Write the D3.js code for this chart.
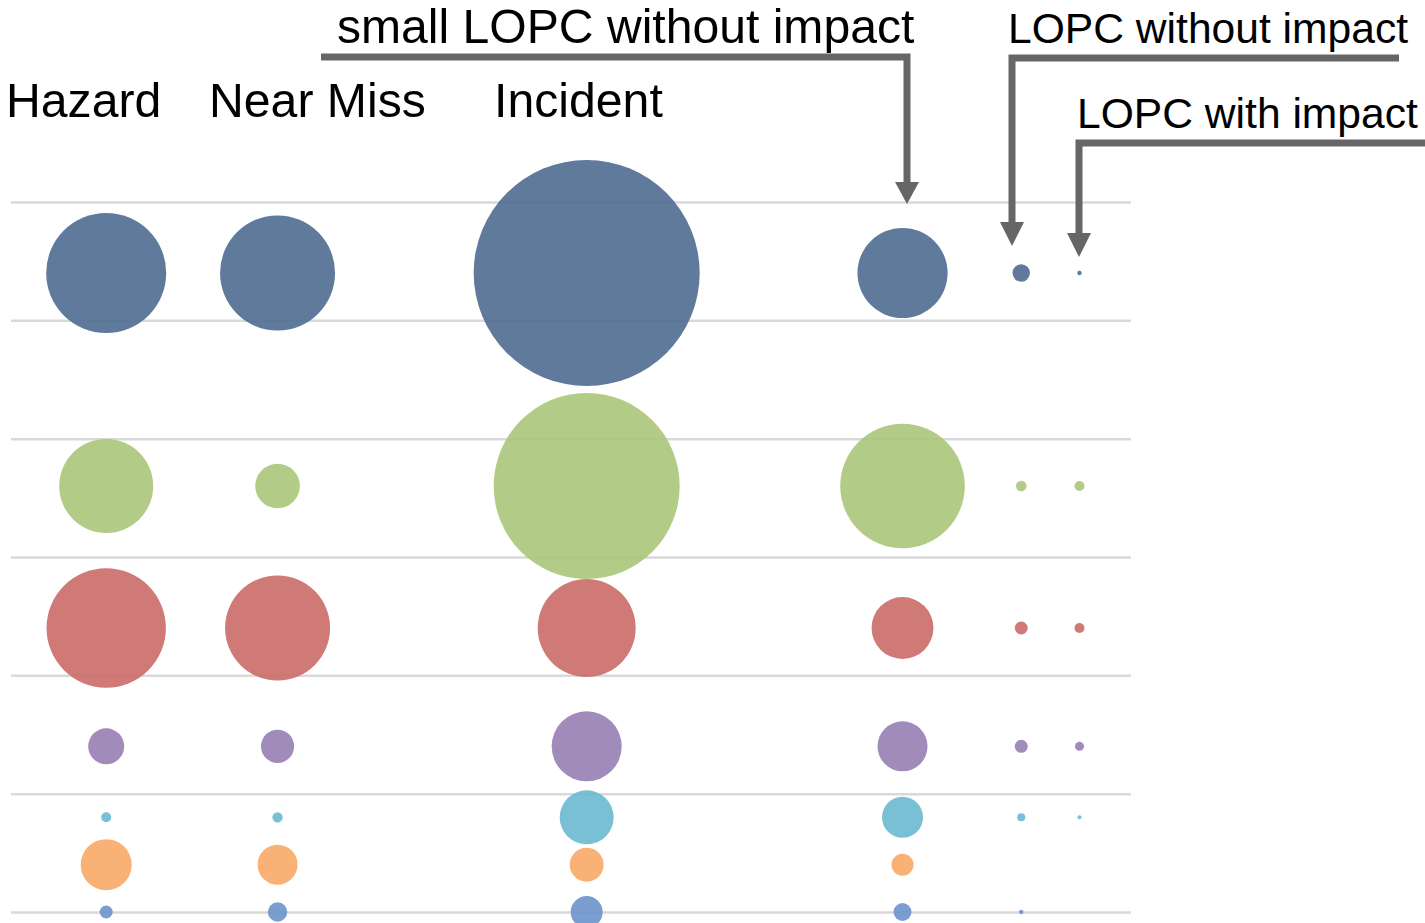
<!DOCTYPE html>
<html>
<head>
<meta charset="utf-8">
<script src="https://cdn.jsdelivr.net/npm/d3@7"></script>
<style>
  html, body { margin: 0; padding: 0; background: #ffffff; }
  svg { display: block; }
  text { font-family: "Liberation Sans", Arial, sans-serif; fill: #000; }
</style>
</head>
<body>
<svg id="chart" width="1425" height="923"></svg>
<script>
// ---------- DATA ----------
const columns = ["Hazard", "Near Miss", "Incident", "small LOPC without impact", "LOPC without impact", "LOPC with impact"];
const columnX = [0.85, 2.38, 5.14, 7.96, 9.02, 9.54];
const rowY = [5.4, 3.6, 2.4, 1.4, 0.8, 0.4, 0];
const yTicks = [0, 1, 2, 3, 4, 5, 6];

const series1 = [28.2, 25.9, 100, 15.9, 0.59, 0.038];
const series2 = [17.3, 3.9, 67.7, 30.4, 0.22, 0.196];
const series3 = [27.9, 21.6, 18.8, 7.5, 0.33, 0.196];
const series4 = [2.54, 2.16, 9.6, 4.9, 0.33, 0.16];
const series5 = [0.196, 0.21, 5.7, 3.3, 0.125, 0.031];
const series6 = [5.1, 3.13, 2.26, 0.95, null, null];
const series7 = [0.33, 0.74, 2.0, 0.63, 0.038, null];

const seriesValues = [series1, series2, series3, series4, series5, series6, series7];
const seriesColors = ["#4e6b8f", "#aac77a", "#cb6c69", "#977eb3", "#6ab9cf", "#f8a867", "#6b94ca"];

// ---------- LAYOUT ----------
const svg = d3.select("#chart");
const x = d3.scaleLinear().domain([0, 10]).range([11, 1131]);
const y = d3.scaleLinear().domain([0, 6]).range([912, 202]);
const r = d3.scaleSqrt().domain([0, 100]).range([0, 113]);

// gridlines
const grid = svg.append("g").attr("transform", "translate(11,0)")
  .call(d3.axisLeft(y).tickValues(yTicks).tickSize(-1120).tickFormat(""));
grid.select(".domain").remove();
grid.selectAll(".tick line").attr("stroke", "#d9d9d9").attr("stroke-width", 2.5);

// bubbles
const cells = [];
seriesValues.forEach((vals, si) => {
  vals.forEach((v, ci) => {
    if (v != null) cells.push({ s: si, c: ci, v: v });
  });
});
svg.append("g").selectAll("circle")
  .data(cells)
  .join("circle")
  .attr("cx", d => x(columnX[d.c]))
  .attr("cy", d => y(rowY[d.s]))
  .attr("r", d => r(d.v))
  .attr("fill", d => seriesColors[d.s])
  .attr("fill-opacity", 0.9);

// column headers (first three)
const headerPos = [[6, 117], [209, 117], [494, 117]];
svg.append("g").selectAll("text")
  .data(columns.slice(0, 3))
  .join("text")
  .attr("x", (d, i) => headerPos[i][0])
  .attr("y", (d, i) => headerPos[i][1])
  .attr("font-size", 48.2)
  .text(d => d);

// annotated headers with arrows
const annos = [
  { label: columns[3], tx: 337, ty: 43, fs: 48.1, path: "M321,57H907V186", head: [[895, 182], [919, 182], [907, 204]] },
  { label: columns[4], tx: 1008, ty: 43, fs: 42.6, path: "M1399,58H1012V226", head: [[1000, 222], [1024, 222], [1012, 246]] },
  { label: columns[5], tx: 1077, ty: 128, fs: 42.6, path: "M1425,143H1079V237", head: [[1067, 233], [1091, 233], [1079, 257]] }
];
const ag = svg.append("g");
annos.forEach(a => {
  ag.append("text").attr("x", a.tx).attr("y", a.ty).attr("font-size", a.fs).text(a.label);
  ag.append("path").attr("d", a.path).attr("fill", "none").attr("stroke", "#666666").attr("stroke-width", 7);
  ag.append("polygon").attr("points", a.head.map(p => p.join(",")).join(" ")).attr("fill", "#666666");
});
</script>
</body>
</html>
